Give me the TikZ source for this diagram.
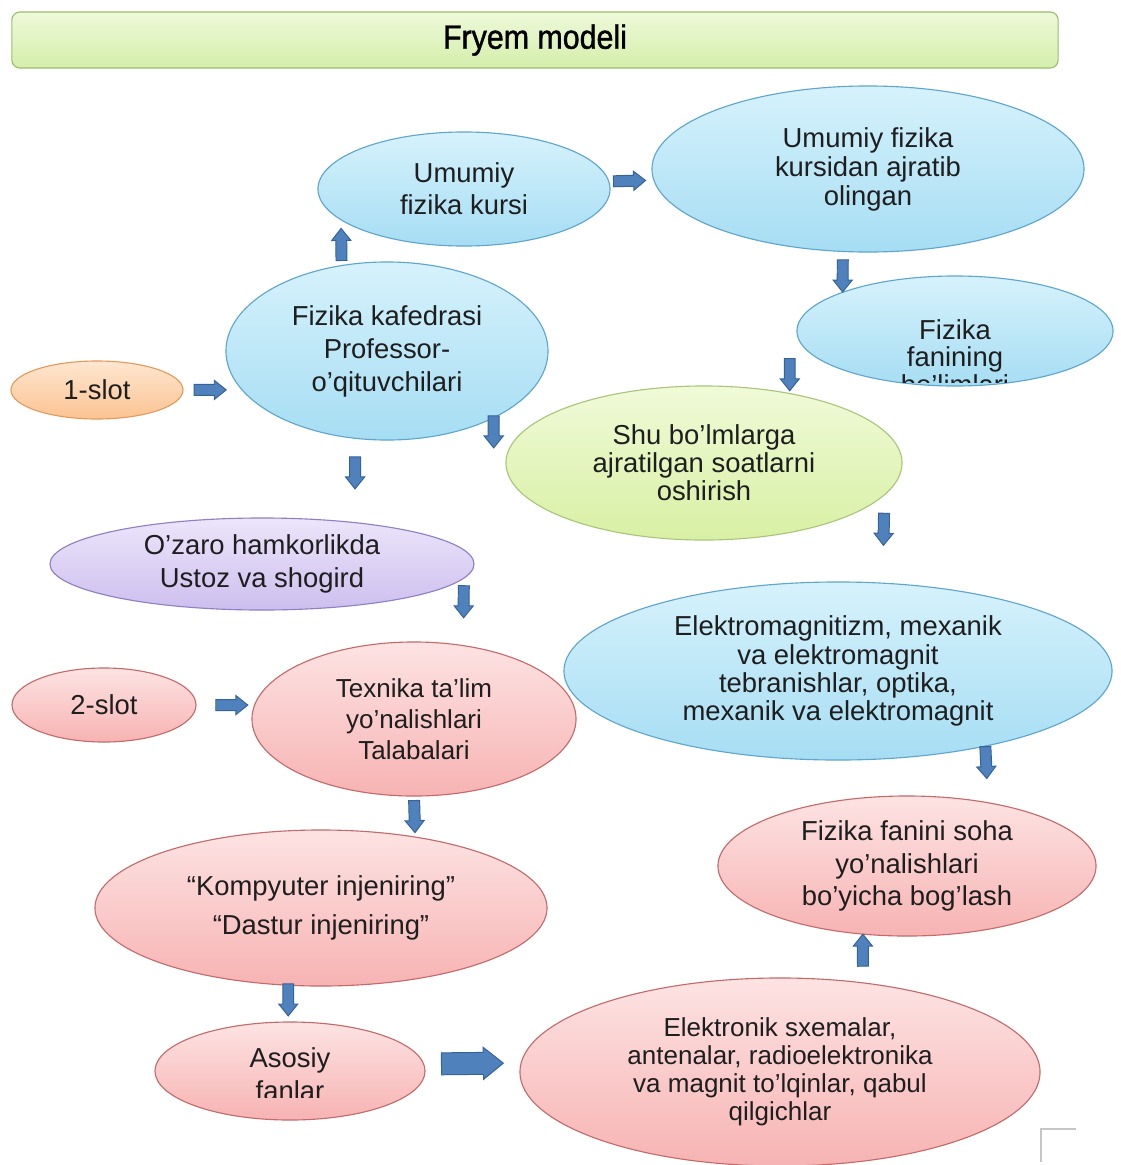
\documentclass[tikz,border=0pt]{standalone}
\usepackage{fontspec}
\setmainfont{Liberation Sans}
\newfontfamily\titlefont{Liberation Sans}[FakeStretch=0.9, FakeBold=1.2]
\usetikzlibrary{shapes.geometric, calc}

\definecolor{bluetop}{HTML}{D6F2FC}
\definecolor{bluebot}{HTML}{A6DDF3}
\definecolor{blueline}{HTML}{5FA6CC}
\definecolor{pinktop}{HTML}{FDE3E3}
\definecolor{pinkbot}{HTML}{F7B3B3}
\definecolor{pinkline}{HTML}{C46A6A}
\definecolor{orangetop}{HTML}{FEE6D0}
\definecolor{orangebot}{HTML}{FBC392}
\definecolor{orangeline}{HTML}{E39B5C}
\definecolor{greentop}{HTML}{F0FAD8}
\definecolor{greenbot}{HTML}{D8F0A4}
\definecolor{greenline}{HTML}{A9C67A}
\definecolor{purpletop}{HTML}{ECE5FA}
\definecolor{purplebot}{HTML}{CDBFEE}
\definecolor{purpleline}{HTML}{8E80C2}
\definecolor{titletop}{HTML}{EFF9DA}
\definecolor{titlebot}{HTML}{D3EEAA}
\definecolor{titleline}{HTML}{9BBE6E}
\definecolor{arrowfill}{HTML}{4F81BD}
\definecolor{arrowline}{HTML}{36629A}
\definecolor{textcol}{HTML}{1E1E1E}

% block arrow: pos, half length, half shaft, half head, head length, from, to
\newcommand\blockarrow[7]{%
  \pgfmathsetmacro\barneck{#2-#5}%
  \path[blk] let \p1=(#6), \p2=(#7), \p3=($(\p1)!#1!(\p2)$),
    \n1={atan2(\y2-\y1,\x2-\x1)} in [shift={(\p3)}, rotate=\n1]
    (-#2pt,-#3pt) -- (\barneck pt,-#3pt) -- (\barneck pt,-#4pt) -- (#2pt,0pt)
    -- (\barneck pt,#4pt) -- (\barneck pt,#3pt) -- (-#2pt,#3pt) -- cycle;}
\newcommand\smallarrow[3][0.5]{\blockarrow{#1}{11.4}{3.9}{6.8}{8.5}{#2}{#3}}
\newcommand\bigarrow[3][0.5]{\blockarrow{#1}{22}{7.8}{11.4}{14.2}{#2}{#3}}

\begin{document}
\begin{tikzpicture}[x=0.025cm, y=-0.025cm,
    txt/.style={align=center, text=textcol, font=\fontsize{19.5}{#1}\selectfont},
    txt/.default=23pt,
    oval/.style={ellipse, inner sep=0pt, outer sep=0pt, line width=0.8pt, txt=#1},
    oval/.default=23pt,
    blueoval/.style={oval=#1, draw=blueline, top color=bluetop, bottom color=bluebot},
    blueoval/.default=23pt,
    pinkoval/.style={oval=#1, draw=pinkline, top color=pinktop, bottom color=pinkbot},
    pinkoval/.default=23pt,
    blk/.style={fill=arrowfill, draw=arrowline, line width=0.7pt, line join=miter}]
  \useasboundingbox (0,0) rectangle (1120,1165);
  \fill[white] (0,0) rectangle (1120,1165);
  % Title bar
  \node[draw=titleline, top color=titletop, bottom color=titlebot, line width=0.8pt,
    rounded corners=0.2cm, minimum width=26.15cm, minimum height=1.4cm,
    text=black, font=\titlefont\fontsize{24}{28}\selectfont] (title) at (535,40) {Fryem modeli};
  % Upper part
  \node[blueoval=22.7pt, minimum width=7.3cm, minimum height=2.85cm] (kurs) at (464,189) {Umumiy\\fizika kursi};
  \node[blueoval=20.6pt, minimum width=10.8cm, minimum height=4.15cm] (olingan) at (868,169) {Umumiy fizika\\kursidan ajratib\\olingan};
  \node[blueoval=23.4pt, minimum width=8.05cm, minimum height=4.45cm] (kaf) at (387,351) {Fizika kafedrasi\\Professor-\\o’qituvchilari};
  \node[blueoval, minimum width=7.9cm, minimum height=2.75cm] (fan) at (955,331) {};
  \begin{scope}
    \clip (797,270) rectangle (1113,382);
    \node[txt=19.5pt] (fantxt) at (955,357) {Fizika\\fanining\\bo’limlari};
  \end{scope}
  \node[oval, draw=orangeline, top color=orangetop, bottom color=orangebot,
    minimum width=4.3cm, minimum height=1.45cm] (slot1) at (97,390) {1-slot};
  \node[oval=20pt, draw=greenline, top color=greentop, bottom color=greenbot,
    minimum width=9.9cm, minimum height=3.85cm] (shu) at (704,463) {Shu bo’lmlarga\\ajratilgan soatlarni\\oshirish};
  \node[oval=24pt, draw=purpleline, top color=purpletop, bottom color=purplebot,
    minimum width=10.6cm, minimum height=2.3cm] (ozaro) at (262,564) {O’zaro hamkorlikda\\Ustoz va shogird};
  \node[blueoval=20pt, minimum width=13.7cm, minimum height=4.45cm] (elek) at (838,671) {Elektromagnitizm, mexanik\\va elektromagnit\\tebranishlar, optika,\\mexanik va elektromagnit};
  % Lower part
  \node[pinkoval, minimum width=4.6cm, minimum height=1.85cm] (slot2) at (104,705) {2-slot};
  \node[pinkoval=22pt, minimum width=8.1cm, minimum height=3.85cm, font=\fontsize{18.5}{22}\selectfont] (texn) at (414,719) {Texnika ta’lim\\yo’nalishlari\\Talabalari};
  \node[pinkoval, minimum width=9.45cm, minimum height=3.5cm] (soha) at (907,866) {Fizika fanini soha\\yo’nalishlari\\bo’yicha bog’lash};
  \node[pinkoval=27.7pt, minimum width=11.3cm, minimum height=3.9cm] (komp) at (321,908) {“Kompyuter injeniring”\\“Dastur injeniring”};
  \node[pinkoval, minimum width=6.75cm, minimum height=2.45cm] (asos) at (290,1071) {};
  \begin{scope}
    \clip (150,1010) rectangle (430,1097);
    \node[txt=23.4pt] (asostxt) at (290,1074) {Asosiy\\fanlar};
  \end{scope}
  \node[pinkoval=20pt, minimum width=13cm, minimum height=4.7cm, font=\fontsize{18.5}{20}\selectfont] (sxem) at (780,1072) {Elektronik sxemalar,\\antenalar, radioelektronika\\va magnit to’lqinlar, qabul\\qilgichlar};
  % Block arrows
  \smallarrow[0.46]{kaf.118}{kurs.194}
  \smallarrow[0.46]{kurs.3}{olingan.183}
  \smallarrow[0.6]{olingan.253}{fan.161}
  \smallarrow{shu.39 |- fan.190}{shu.39}
  \smallarrow[0.46]{slot1.east}{kaf.195}
  \smallarrow{kaf.-32}{kaf.-32 |- shu.175}
  \smallarrow[0.41]{kaf.250}{ozaro.24}
  \smallarrow[0.39]{shu.-10}{elek.63}
  \smallarrow[0.35]{ozaro.-4}{texn.56}
  \smallarrow[0.61]{slot2.east}{texn.175}
  \smallarrow[0.29]{elek.-27}{soha.38}
  \smallarrow{texn.south}{komp.37}
  \smallarrow[0.67]{sxem.47}{soha.237}
  \smallarrow[0.4]{komp.247}{komp.247 |- asos.north}
  \bigarrow{asos.3}{sxem.178}
  % Corner mark
  \draw[gray!45, line width=1.4pt] (1041,1162) -- (1041,1129) -- (1076,1129);
\end{tikzpicture}
\end{document}
